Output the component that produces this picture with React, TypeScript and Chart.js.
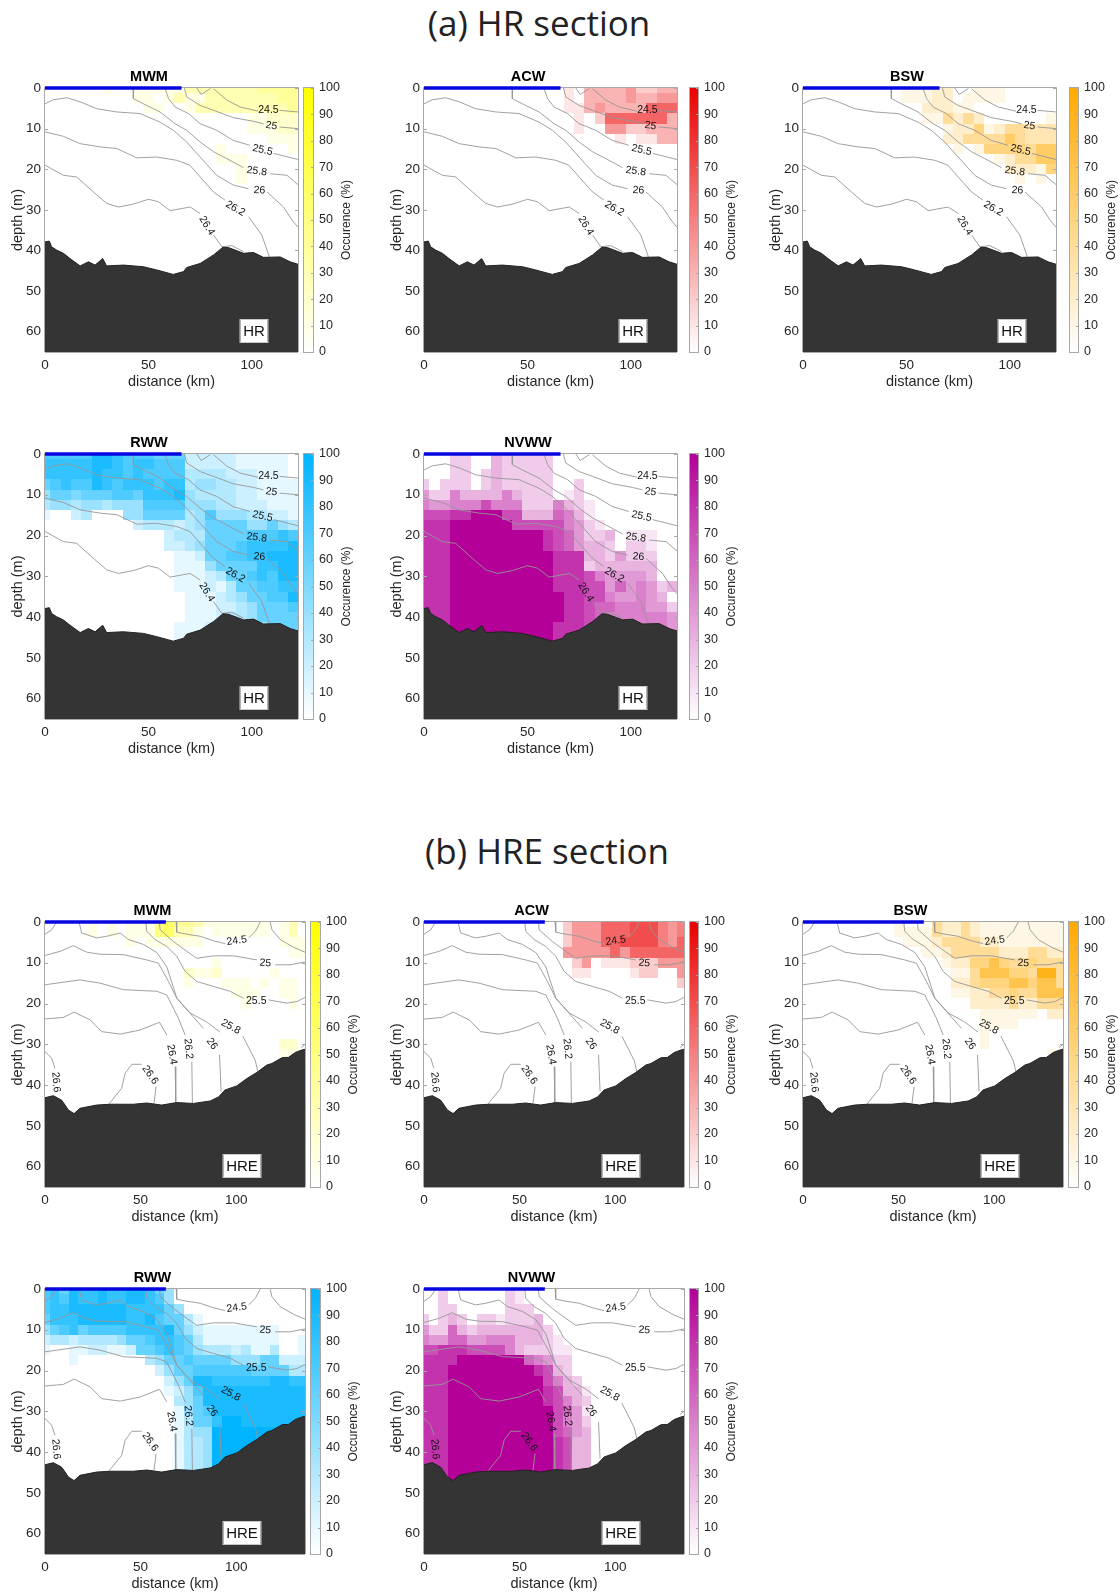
import React, { useEffect, useRef } from "react";
import { Chart, registerables } from "chart.js";

Chart.register(...registerables);

/* Occurrence grids: one row per 2.5 m of depth, [first 5-km column, tens of percent per column, a = 100] */
const HR_MWM = [[6,"1001111133333334444"],[9,"1101311333333344"],[10,"110013333333334"],[20,"11222"],[20,"11122"],[22,"111"],[17,"10000001"],[17,"111"],[19,"1"],[19,"1"]];
const HR_ACW = [[14,"10333342233"],[14,"10333343344"],[14,"11343333666"],[15,"1026666663"],[15,"1004422333"],[19,"101133"]];
const HR_BSW = [[10,"1112200111"],[10,"1112201111"],[12,"222110"],[12,"1142420000001"],[14,"12251244333"],[14,"22444464333"],[15,"1015555466"],[19,"124466"],[20,"22215"],[21,"101"]];
const HR_RWW = [[0,"7777799877766622222111110"],[0,"8888899878877722222111110"],[0,"8888898878777733332221110"],[0,"6787798788878834433221111"],[0,"4665666776888943333221111"],[0,"3443443444777744433222111"],[0,"1002300044666634744433221"],[0,"0000000002333234666644643"],[12,"2333666677787"],[12,"2234666788889"],[13,"112667788999"],[13,"111466668899"],[13,"111236678799"],[13,"111213667788"],[14,"11123466779"],[14,"11122346667"],[14,"11123346666"],[13,"111223344666"],[13,"111223344666"]];
const HR_NVWW = [[0,"0002200322222"],[0,"0002200322222"],[0,"0002202322222"],[0,"2022202322222002"],[0,"4225333353222012"],[0,"54455575552225321"],[0,"77788aaa773336531"],[0,"888aaaaaa777775421"],[0,"888aaaaaaaaa87642230111"],[0,"888aaaaaaaaa87643320221"],[0,"888aaaaaaaaaa8883324222"],[0,"888aaaaaaaaaa8882333333"],[0,"888aaaaaaaaaa888754444300"],[0,"888aaaaaaaaaa888774645423"],[0,"888aaaaaaaaaaa88775445430"],[0,"888aaaaaaaaaaa88766555442"],[0,"888aaaaaaaaaaa88765555554"],[0,"888aaaaaaaaaa888776555554"],[0,"888aaaaaaaaaa888776555554"]];
const HRE_MWM = [[5,"10101115644311111110130"],[5,"10101115633101111110130"],[9,"1011111100000000111"],[26,"11"],[18,"1"],[15,"2112000001"],[15,"100011101011"],[20,"1110011"],[21,"100001"],[0,""],[0,""],[0,""],[25,"22"],[25,"111"]];
const HRE_ACW = [[15,"2444666777545"],[15,"2444666777545"],[15,"2444667777546"],[15,"4444464666666"],[16,"240111222444"],[16,"110000122004"],[27,"2"]];
const HRE_BSW = [[10,"100042242111111111"],[10,"111142242111111111"],[11,"11124444221111111"],[13,"112444442224422"],[15,"1225575445444"],[16,"114777554994"],[16,"224555775774"],[16,"112244544777"],[18,"2222422444"],[19,"111111022"],[19,"1111"],[19,"1"],[19,"1"],[26,"1"]];
const HRE_RWW = [[0,"78698898899864"],[0,"78798898899874"],[0,"788999999888864"],[0,"68889999988976631"],[0,"4678677778888964211111111"],[0,"2332333346678876311111111001"],[0,"1001122112667876433323113001"],[0,"0001000000034667666644466222"],[12,"2466777777666633"],[13,"246998888889988"],[13,"124799999999999"],[14,"34699999999999"],[14,"14679999999999"],[14,"13668aa9999999"],[14,"1344aaaaaaaaaa"],[14,"1334aaaaaaaaaa"],[14,"1334aaaaaaaaaa"],[14,"1334aaaaaaaaaa"],[14,"1334aaaaaaaaaa"]];
const HRE_NVWW = [[0,"00200000021"],[0,"00200000021"],[0,"002200000222"],[0,"2023202212223"],[0,"42263233333332"],[0,"544664455533321"],[0,"7788877775322211"],[0,"8888aaaaaaa65422"],[0,"888aaaaaaaaa8732"],[0,"888aaaaaaaaaa7532"],[0,"888aaaaaaaaaa87331"],[0,"888aaaaaaaaaa87532"],[0,"888aaaaaaaaaaa7641"],[0,"888aaaaaaaaaaa7542"],[0,"888aaaaaaaaaaa7643"],[0,"888aaaaaaaaaaa8733"],[0,"888aaaaaaaaaaa8733"],[0,"888aaaaaaaaaaa8733"],[0,"888aaaaaaaaaaa8733"],[0,"888aaaaaaaaaaa8733"]];

/* Isopycnals: [distance km, depth m] */
const HR_CONTOURS = [
  [[73.4,0],[75.5,1.6],[80,0.1]],
  [[81.5,0.2],[88,3],[94.5,4.7],[103,5.7]],
  [[113.4,5.5],[122.3,5.9]],
  [[67.4,0],[68.5,2.2],[75,4.3],[81.5,5.5],[91,7.3],[100.8,8.2],[105.6,8.8]],
  [[113.4,9.6],[122.3,10]],
  [[58,0],[59.7,2.6],[62.9,4.7],[69.4,6.3],[75,8.8],[83,10.4],[91,12.9],[99,14.1]],
  [[110.5,16.1],[122.3,17.6]],
  [[42.7,0],[42.7,2.6],[47.6,3.9],[55.6,5.9],[62.9,8.8],[68.5,10.4],[75,13.3],[81.5,15.7],[87.9,17.4],[96,19.6]],
  [[108.9,21.1],[117,21.5],[122.3,23.8]],
  [[0,3.9],[4,2.9],[10.5,2.4],[17,3.4],[25,5.1],[34.7,5.9],[46,6.3],[55.6,8.4],[62,10.4],[68.5,13.3],[75,17],[83,21.5],[91,23.9],[98.4,24.8]],
  [[107.3,25.6],[115.3,29.3],[119.4,32.5],[122.3,34.3]],
  [[0,10.8],[8.9,11.9],[17,13.7],[26.6,14.5],[34.7,14.9],[44.4,17.2],[54,17],[63.7,17.8],[70,19],[75,21.9],[81.5,25.6],[87,27.6]],
  [[98.4,31.7],[104.8,36.2],[108.5,41.6]],
  [[0,19],[8.9,21.5],[15.3,21.9],[23.4,25.6],[29.8,28.4],[35.5,29.3],[42.7,28.6],[50,27.4],[54.8,28],[60.5,30.2],[70.2,29.3],[75,30.9]],
  [[81.5,36.2],[85.5,39.1],[90.3,38.8],[96,40.3]],
];
const HR_LABELS = [["24.5",108,5.5,0],["25",109.4,9.3,8],["25.5",105.2,15.3,12],["25.8",102.4,20.5,8],["26",103.7,25.2,3],["26.2",92,29.7,30],["26.4",78.2,33.9,58]];
const HR_BOTTOM = [[0,37.9],[2.1,37.7],[3.2,39.1],[5.6,39.9],[8.9,40.7],[12.1,42],[17,43.8],[21,42.8],[24.2,43.6],[27.9,42],[29.8,43.8],[37.9,43.6],[47.6,44],[54,44.8],[62,45.9],[67,45.2],[68.5,44.2],[75,43.2],[81.5,41.1],[86,39.2],[88.7,39.3],[96,40.7],[100.8,40.5],[105.6,41.7],[113.7,41.6],[118.5,42.8],[122.3,43.4]];

const HRE_CONTOURS = [
  [[68.6,0],[68.9,2.5],[74.2,3],[81.2,3.5],[88.1,4.6],[94.2,5.3]],
  [[106.5,3.9],[110,2.3],[112.6,0]],
  [[117.8,0],[118.7,1.9],[123,4.3],[130,6.2],[136,7.4]],
  [[59.9,0],[60.2,1.9],[67.2,4.8],[74.2,7.2],[79.4,8.9],[88.1,8.3],[98.6,8.3],[110.8,9.3]],
  [[120.4,10.5],[128.3,10.5],[136,9.8]],
  [[52.7,0],[53.2,2.3],[57.6,4.3],[63.7,6],[68.9,8.4],[73.3,12.1],[79.4,14.6],[88.1,15.8],[96.9,17],[103.8,18.7]],
  [[116.9,19.1],[126.5,19.9],[131.8,19.5],[136,18.5]],
  [[6.1,0],[3.5,1.9],[0,3]],
  [[17.8,0],[19.2,2.7],[27,3.9],[32.3,3.5],[39.3,2.7],[43.6,4.3],[51.5,5.5],[58.5,7.5],[63.7,11],[69,18.7],[75.9,22.3],[84.5,24.5],[91.5,27]],
  [[103.5,28],[110,34],[111.5,37]],
  [[0,8.2],[7.9,7.2],[14.8,5.8],[21.8,7.4],[28.8,7.9],[41,8],[53.2,9.3],[59.3,10.1],[64.6,14.6],[68.9,18.7],[75.9,22.4],[82.9,26.1]],
  [[91.3,32.6],[92.1,41.6]],
  [[0,15.4],[6.1,15],[18.3,14.2],[28.8,15],[41,16.6],[58.5,17],[63.7,17.9],[69.8,23.6],[73.3,27.7]],
  [[76.8,34.3],[77.1,44.5]],
  [[0,23.8],[9.6,23.4],[15.2,22.1],[23.6,24],[29.7,26.9],[39.3,27.5],[49.7,26.5],[59.9,24.6],[63.7,27.7]],
  [[68.1,35.5],[68.4,44.3]],
  [[0,31.8],[3.5,33.4],[5.2,35.9]],
  [[33.2,44.8],[40.1,40.8],[41.9,37.1],[45.4,34.9],[50.6,34.9]],
  [[58.1,40.4],[57,44.5]],
  [[134,30.8],[136,30]],
];
const HRE_LABELS = [["24.5",100.3,4.6,-8],["25",115.2,10.1,5],["25.5",110.5,19.3,0],["25.8",97.2,25.7,28],["26",87.3,29.9,55],["26.2",75,31.1,85],["26.4",66.3,32.5,80],["26.6",5.8,39.3,85],["26.6",55,37.5,55]];
const HRE_BOTTOM = [[0,43.1],[4.4,42.6],[8.7,43.7],[10.5,44.9],[12.2,46.1],[15.2,47],[18.3,45.7],[27,44.9],[34,44.7],[46.2,44.7],[53.2,44.4],[61,44.9],[68.9,44.3],[77.7,44.5],[86.4,43.9],[90.8,42.9],[94.2,41.2],[100.3,40.2],[105.6,38.4],[110.8,36.9],[116,35.1],[118.7,34.7],[123.9,33.3],[127.4,33.2],[130.9,32],[134.4,31.4],[136.1,31.2]];

const DISTANCE_MAX = { HR: 122.3, HRE: 136 };
const BAR_END = { HR: 66, HRE: 63.2 };
const DEPTH_MAX = 65;
const OCCURRENCE_TICKS = [0,10,20,30,40,50,60,70,80,90,100];
const DEPTH_TICKS = [0,10,20,30,40,50,60];
const DISTANCE_TICKS = [0,50,100];
const COLOURS = { MWM: [255,255,0], ACW: [236,0,0], BSW: [255,170,0], RWW: [0,180,255], NVWW: [180,0,152] };

const TEXT = "#262626";
const SANS = "'Liberation Sans', Arial, sans-serif";
const FRAME = "#a8a8a8";

function mix(rgb, f) {
  const c = rgb.map((v) => Math.round(255 + (v - 255) * f));
  return `rgb(${c[0]},${c[1]},${c[2]})`;
}
function expandCells(rows) {
  const out = [];
  rows.forEach(([start, text], j) => {
    [...text].forEach((ch, k) => {
      const v = ch === "a" ? 100 : Number(ch) * 10;
      if (v > 0) out.push({ x: 5 * (start + k), y: 2.5 * j, v });
    });
  });
  return out;
}
const toXY = (pts) => pts.map(([x, y]) => ({ x, y }));

const insidePlugin = {
  id: "sectionDecor",
  beforeDatasetsDraw(chart, _a, opts) {
    const { ctx, chartArea: a, scales: { x, y } } = chart;
    ctx.save();
    ctx.beginPath();
    ctx.rect(a.left, a.top, a.right - a.left, a.bottom - a.top);
    ctx.clip();
    const cells = chart.data.datasets.find((d) => d.label === "occurrence").data;
    for (const c of cells) {
      const x0 = Math.round(x.getPixelForValue(c.x - 2.5));
      const x1 = Math.round(x.getPixelForValue(c.x + 2.5));
      const y0 = Math.round(y.getPixelForValue(c.y - 1.25));
      const y1 = Math.round(y.getPixelForValue(c.y + 1.25));
      ctx.fillStyle = mix(opts.rgb, c.v / 100);
      ctx.fillRect(x0, y0, x1 - x0, y1 - y0);
    }
    ctx.restore();
    ctx.save();
    ctx.strokeStyle = FRAME;
    ctx.lineWidth = 1;
    ctx.beginPath();
    ctx.moveTo(a.left - 0.5, a.bottom);
    ctx.lineTo(a.left - 0.5, a.top - 0.5);
    ctx.lineTo(a.right + 0.5, a.top - 0.5);
    ctx.lineTo(a.right + 0.5, a.bottom);
    ctx.moveTo(a.left, a.bottom + 0.5);
    ctx.lineTo(a.right, a.bottom + 0.5);
    for (const t of y.ticks) {
      const p = Math.round(y.getPixelForValue(t.value)) + 0.5;
      ctx.moveTo(a.left, p);
      ctx.lineTo(a.left + 3, p);
      ctx.moveTo(a.right, p);
      ctx.lineTo(a.right - 3, p);
    }
    ctx.stroke();
    ctx.restore();
  },
  afterDatasetsDraw(chart, _a, opts) {
    const { ctx, scales: { x, y } } = chart;
    ctx.save();
    // contour labels
    ctx.fillStyle = "#111";
    ctx.font = `10.5px ${SANS}`;
    ctx.textAlign = "center";
    ctx.textBaseline = "middle";
    for (const [text, lx, ly, ang] of opts.labels) {
      ctx.save();
      ctx.translate(x.getPixelForValue(lx), y.getPixelForValue(ly));
      ctx.rotate((ang * Math.PI) / 180);
      ctx.fillText(text, 0, 0);
      ctx.restore();
    }
    // section tag
    ctx.font = `15px ${SANS}`;
    const w = Math.round(ctx.measureText(opts.tag).width) + 5;
    const cx = Math.round(x.getPixelForValue(opts.tagX));
    const cy = Math.round(y.getPixelForValue(59.9));
    ctx.fillStyle = "#fff";
    ctx.fillRect(cx - w / 2, cy - 11, w, 22);
    ctx.strokeStyle = "#c8c8c8";
    ctx.lineWidth = 1;
    ctx.strokeRect(cx - w / 2 - 0.5, cy - 11.5, w + 1, 23);
    ctx.fillStyle = "#111";
    ctx.fillText(opts.tag, cx, cy + 0.5);
    ctx.restore();
  },
};

const barPlugin = {
  id: "barDecor",
  afterDatasetsDraw(chart) {
    const { ctx, chartArea: a, scales: { y } } = chart;
    ctx.save();
    ctx.strokeStyle = "#a8a8a8";
    ctx.lineWidth = 1;
    ctx.strokeRect(a.left + 0.5, a.top - 0.5, a.right - a.left - 1, a.bottom - a.top + 1);
    ctx.beginPath();
    for (const t of y.ticks) {
      const p = Math.round(y.getPixelForValue(t.value)) + 0.5;
      ctx.moveTo(a.right - 3, p);
      ctx.lineTo(a.right, p);
    }
    ctx.stroke();
    ctx.fillStyle = TEXT;
    ctx.font = `12px ${SANS}`;
    ctx.textAlign = "center";
    ctx.textBaseline = "middle";
    ctx.translate(a.right + 33, (a.top + a.bottom) / 2);
    ctx.rotate(-Math.PI / 2);
    ctx.fillText("Occurence (%)", 0, 0);
    ctx.restore();
  },
};

const PAD_LEFT = 45;
const PAD_TOP = 19;
const PAD_BOTTOM = 42;

function Section({ name, section, rows, left, right, top, bottom, barLeft, barWidth }) {
  const plotRef = useRef(null);
  const barRef = useRef(null);
  useEffect(() => {
    const isHR = section === "HR";
    const contours = isHR ? HR_CONTOURS : HRE_CONTOURS;
    const xMax = DISTANCE_MAX[section];
    const rgb = COLOURS[name];
    const plot = new Chart(plotRef.current, {
      type: "scatter",
      plugins: [insidePlugin],
      data: {
        datasets: [
          { label: "section bar", data: toXY([[0, 0], [BAR_END[section], 0]]), showLine: true, borderColor: "#0606e0", borderWidth: 3.5, pointRadius: 0, clip: false, borderCapStyle: "butt" },
          { label: "bottom", data: toXY(isHR ? HR_BOTTOM : HRE_BOTTOM), showLine: true, borderColor: "#222", borderWidth: 1, pointRadius: 0, fill: { value: DEPTH_MAX }, backgroundColor: "#343434" },
          ...contours.map((seg, i) => ({ label: `isopycnal ${i}`, data: toXY(seg), showLine: true, borderColor: "#969696", borderWidth: 0.9, pointRadius: 0 })),
          { label: "occurrence", data: expandCells(rows), showLine: false, pointRadius: 0 },
        ],
      },
      options: {
        animation: false,
        responsive: false,
        devicePixelRatio: 1,
        layout: { padding: { left: 0, top: 0, right: 2, bottom: 0 } },
        plugins: {
          legend: { display: false },
          tooltip: { enabled: false },
          title: { display: true, text: name, color: "#000", font: { family: SANS, size: 14.5, weight: "bold", lineHeight: "16px" }, padding: { top: 0, bottom: 3 } },
          sectionDecor: { rgb, labels: isHR ? HR_LABELS : HRE_LABELS, tag: section, tagX: isHR ? 101 : 103.3 },
        },
        scales: {
          x: {
            type: "linear", min: 0, max: xMax,
            afterBuildTicks: (s) => { s.ticks = DISTANCE_TICKS.map((value) => ({ value })); },
            afterFit: (s) => { s.height = PAD_BOTTOM; },
            grid: { display: false, drawTicks: false }, border: { display: false },
            ticks: { color: TEXT, font: { family: SANS, size: 13.5 }, padding: 5, maxRotation: 0 },
            title: { display: true, text: "distance (km)", color: TEXT, font: { family: SANS, size: 14.5, lineHeight: "16px" }, padding: { top: 0, bottom: 4 } },
          },
          y: {
            type: "linear", reverse: true, min: 0, max: DEPTH_MAX,
            afterBuildTicks: (s) => { s.ticks = DEPTH_TICKS.map((value) => ({ value })); },
            afterFit: (s) => { s.width = PAD_LEFT; },
            grid: { display: false, drawTicks: false }, border: { display: false },
            ticks: { color: TEXT, font: { family: SANS, size: 13.5 }, padding: 4 },
            title: { display: true, text: "depth (m)", color: TEXT, font: { family: SANS, size: 14.5, lineHeight: "16px" }, padding: { top: 10, bottom: 0 } },
          },
        },
      },
    });
    const bar = new Chart(barRef.current, {
      type: "bar",
      plugins: [barPlugin],
      data: {
        labels: ["occurrence"],
        datasets: [{
          data: [100],
          barPercentage: 1,
          categoryPercentage: 1,
          backgroundColor: (c) => {
            const a = c.chart.chartArea;
            if (!a) return mix(rgb, 0.5);
            const g = c.chart.ctx.createLinearGradient(0, a.bottom, 0, a.top);
            g.addColorStop(0, "#ffffff");
            g.addColorStop(1, mix(rgb, 1));
            return g;
          },
        }],
      },
      options: {
        animation: false,
        responsive: false,
        devicePixelRatio: 1,
        layout: { padding: { top: PAD_TOP, bottom: PAD_BOTTOM, left: 0, right: 0 } },
        plugins: { legend: { display: false }, tooltip: { enabled: false }, title: { display: false } },
        scales: {
          x: { display: false },
          y: {
            position: "right", min: 0, max: 100,
            afterBuildTicks: (s) => { s.ticks = OCCURRENCE_TICKS.map((value) => ({ value })); },
            afterFit: (s) => { s.width = 48; },
            grid: { display: false, drawTicks: false }, border: { display: false },
            ticks: { color: TEXT, font: { family: SANS, size: 12.5 }, padding: 5 },
          },
        },
      },
    });
    return () => { plot.destroy(); bar.destroy(); };
  }, []);
  const h = bottom - top + PAD_TOP + PAD_BOTTOM;
  return (
    <>
      <canvas ref={plotRef} width={right - left + PAD_LEFT + 2} height={h}
        style={{ position: "absolute", left: left - PAD_LEFT, top: top - PAD_TOP, width: right - left + PAD_LEFT + 2, height: h }} />
      <canvas ref={barRef} width={barWidth + 48} height={h}
        style={{ position: "absolute", left: barLeft, top: top - PAD_TOP, width: barWidth + 48, height: h }} />
    </>
  );
}

const PANELS = [
  { name: "MWM", section: "HR", rows: HR_MWM, left: 45, right: 298, top: 88, bottom: 352, barLeft: 303, barWidth: 11 },
  { name: "ACW", section: "HR", rows: HR_ACW, left: 424, right: 677, top: 88, bottom: 352, barLeft: 689, barWidth: 10 },
  { name: "BSW", section: "HR", rows: HR_BSW, left: 803, right: 1056, top: 88, bottom: 352, barLeft: 1069, barWidth: 10 },
  { name: "RWW", section: "HR", rows: HR_RWW, left: 45, right: 298, top: 454, bottom: 719, barLeft: 303, barWidth: 11 },
  { name: "NVWW", section: "HR", rows: HR_NVWW, left: 424, right: 677, top: 454, bottom: 719, barLeft: 689, barWidth: 10 },
  { name: "MWM", section: "HRE", rows: HRE_MWM, left: 45, right: 305, top: 922, bottom: 1187, barLeft: 310, barWidth: 11 },
  { name: "ACW", section: "HRE", rows: HRE_ACW, left: 424, right: 684, top: 922, bottom: 1187, barLeft: 689, barWidth: 10 },
  { name: "BSW", section: "HRE", rows: HRE_BSW, left: 803, right: 1063, top: 922, bottom: 1187, barLeft: 1068, barWidth: 11 },
  { name: "RWW", section: "HRE", rows: HRE_RWW, left: 45, right: 305, top: 1289, bottom: 1554, barLeft: 310, barWidth: 11 },
  { name: "NVWW", section: "HRE", rows: HRE_NVWW, left: 424, right: 684, top: 1289, bottom: 1554, barLeft: 689, barWidth: 10 },
];

const headStyle = { position: "absolute", width: 500, textAlign: "center", fontFamily: "'Open Sans', sans-serif", fontSize: 35, lineHeight: "40px", color: "#222", whiteSpace: "nowrap" };

export default function App() {
  return (
    <div style={{ position: "absolute", left: 0, top: 0, width: 1120, height: 1593, overflow: "hidden", background: "#fff" }}>
      <div style={{ ...headStyle, left: 289, top: 3 }}>(a) HR section</div>
      <div style={{ ...headStyle, left: 297, top: 831 }}>(b) HRE section</div>
      {PANELS.map((p) => <Section key={p.section + p.name} {...p} />)}
    </div>
  );
}
